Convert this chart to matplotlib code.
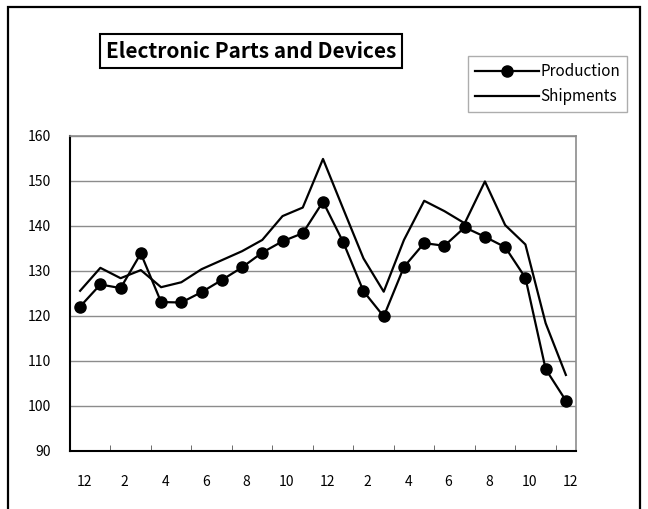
import numpy as np
import matplotlib
matplotlib.use("Agg")
import matplotlib.pyplot as plt
from matplotlib.patches import Rectangle
from matplotlib.transforms import ScaledTranslation

plt.rcParams['font.family'] = ['Noto Sans CJK JP', 'DejaVu Sans']

# months from Dec through two years to Dec
months = [12, 1, 2, 3, 4, 5, 6, 7, 8, 9, 10, 11, 12,
          1, 2, 3, 4, 5, 6, 7, 8, 9, 10, 11, 12]
production = [122.1, 127.0, 126.2, 133.9, 123.1, 123.0, 125.3, 128.0, 130.8,
              134.1, 136.6, 138.4, 145.4, 136.4, 125.5, 119.9, 130.9, 136.2,
              135.6, 139.7, 137.6, 135.3, 128.5, 108.2, 101.2]
shipments = [125.6, 130.7, 128.4, 130.2, 126.4, 127.5, 130.4, 132.4, 134.4,
             136.9, 142.2, 144.1, 154.9, 143.8, 132.8, 125.4, 136.9, 145.6,
             143.3, 140.6, 149.9, 140.2, 135.9, 118.4, 106.9]
yticks = [90, 100, 110, 120, 130, 140, 150, 160]

fig = plt.figure(figsize=(6.48, 5.09), dpi=100)
ax = fig.add_axes([70 / 648, 1 - 451 / 509, 506 / 648, 315 / 509])

x = np.arange(len(months))
ax.plot(x, shipments, color='black', lw=1.6, label='Shipments', zorder=3)
ax.plot(x, production, color='black', lw=1.6, marker='o', ms=8,
        label='Production', zorder=4)

ax.set_xlim(-0.5, len(months) - 0.5)
ax.set_ylim(90, 160)
ax.set_yticks(yticks)
ax.yaxis.grid(True, color='#8c8c8c', lw=1)
ax.set_axisbelow(True)
ax.tick_params(axis='y', length=0, pad=14, labelsize=10)

# labels every other month, ticks between categories
ax.set_xticks(x[::2])
ax.set_xticklabels([str(m) for m in months[::2]], fontsize=10)
ax.tick_params(axis='x', which='major', length=0, pad=17)
ax.set_xticks(np.arange(1.5, len(months) - 1, 2), minor=True)
ax.tick_params(axis='x', which='minor', direction='in', length=4,
               color='#555555')
offset = ScaledTranslation(3 / 72, 0, fig.dpi_scale_trans)
for lbl in ax.get_xticklabels():
    lbl.set_transform(lbl.get_transform() + offset)

for side in ['top', 'right']:
    ax.spines[side].set_color('#8c8c8c')
    ax.spines[side].set_linewidth(1.2)
for side in ['left', 'bottom']:
    ax.spines[side].set_color('black')
    ax.spines[side].set_linewidth(1.5)

# outer chart border
fig.patches.append(Rectangle((8 / 648, -0.01), 632 / 648, 1 - 7 / 509 + 0.01,
                             transform=fig.transFigure, fill=False,
                             edgecolor='black', lw=1.6))

fig.text(251 / 648, 1 - 51 / 509, 'Electronic Parts and Devices',
         ha='center', va='center', fontsize=15, fontweight='bold',
         bbox=dict(boxstyle='square,pad=0.3', facecolor='white',
                   edgecolor='black', lw=1.5))

handles, labels = ax.get_legend_handles_labels()
leg = fig.legend(handles[::-1], labels[::-1], loc='upper right',
                 bbox_to_anchor=(627 / 648, 1 - 56 / 509), fontsize=11,
                 frameon=True, fancybox=False, handlelength=4.2,
                 handletextpad=0.1, borderpad=0.45, labelspacing=0.55,
                 borderaxespad=0)
leg.get_frame().set_edgecolor('#999999')
leg.get_frame().set_linewidth(1)

fig.savefig('out.png', dpi=100)
